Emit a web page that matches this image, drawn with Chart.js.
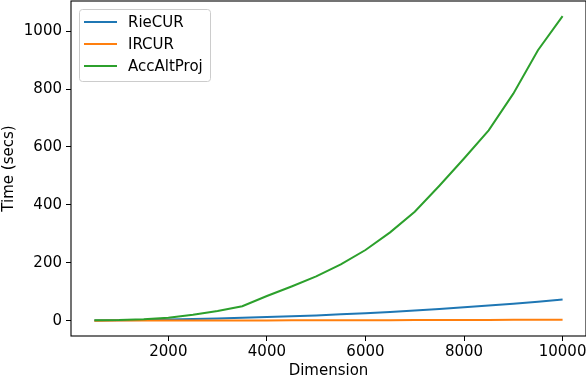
<!DOCTYPE html>
<html>
<head>
<meta charset="utf-8">
<script src="https://cdn.jsdelivr.net/npm/chart.js@4"></script>
<style>
html, body { margin: 0; padding: 0; background: #fff; }
#wrap { width: 586px; height: 380px; }
</style>
</head>
<body>
<div id="wrap"><canvas id="myChart" width="586" height="380"></canvas></div>
<script>
// dimensions and timings
let dims = [500, 1000, 1500, 2000, 2500, 3000, 3500, 4000, 4500, 5000,
    5500, 6000, 6500, 7000, 7500, 8000, 8500, 9000, 9500, 10000]
let rieCur = [0.5, 1, 2.5, 4, 5.5, 7.5, 10, 12.5, 15, 18,
    22, 26, 30, 35, 40, 46, 52, 58, 65, 73]
let irCur = [0.1, 0.2, 0.3, 0.4, 0.5, 0.6, 0.8, 0.9, 1.0, 1.2,
    1.4, 1.6, 1.8, 2.0, 2.2, 2.4, 2.6, 2.8, 3.0, 3.3]
let accAltProj = [1, 2, 5, 10, 20, 33, 50, 85, 118, 153,
    194, 244, 305, 376, 466, 560, 657, 784, 934, 1052]
let xTicks = [2000, 4000, 6000, 8000, 10000]
let yTicks = [0, 200, 400, 600, 800, 1000]

let fonte = "'DejaVu Sans', sans-serif"

function pontos(vals){
    return dims.map((d, i) => ({x: d, y: vals[i]}))
}

// box around the plot area + legend in the upper left corner
let moldura = {
    id: 'moldura',
    afterDatasetsDraw(chart){
        let c = chart.ctx
        let a = chart.chartArea
        c.save()
        c.strokeStyle = '#000'
        c.lineWidth = 1.1
        c.strokeRect(a.left, a.top, a.right - a.left, a.bottom - a.top)

        let bx = a.left + 8, by = a.top + 8, bw = 131, bh = 72
        c.fillStyle = 'rgba(255,255,255,0.8)'
        c.strokeStyle = '#cccccc'
        c.lineWidth = 1
        c.beginPath()
        c.roundRect(bx + 0.5, by + 0.5, bw, bh, 3)
        c.fill()
        c.stroke()
        c.font = '15px ' + fonte
        c.textBaseline = 'middle'
        chart.data.datasets.forEach((ds, i) => {
            let y = by + 13 + i * 22
            c.strokeStyle = ds.borderColor
            c.lineWidth = 2
            c.beginPath()
            c.moveTo(bx + 5, y)
            c.lineTo(bx + 38, y)
            c.stroke()
            c.fillStyle = '#000'
            c.fillText(ds.label, bx + 49, y + 1)
        })
        c.restore()
    }
}

function semPadding(ax){
    ax.paddingTop = 0
    ax.paddingBottom = 0
    ax.paddingLeft = 0
    ax.paddingRight = 0
}

let ctx = document.getElementById('myChart')
let dados = {
    datasets: [
        {label: 'RieCUR', data: pontos(rieCur), borderColor: '#1f77b4', order: 2},
        {label: 'IRCUR', data: pontos(irCur), borderColor: '#ff7f0e', order: 1},
        {label: 'AccAltProj', data: pontos(accAltProj), borderColor: '#2ca02c', order: 0},
    ]
}
let opcoes = {
    responsive: false,
    animation: false,
    layout: {padding: {top: 1, right: 0, left: 0, bottom: 0}},
    elements: {
        line: {borderWidth: 2, tension: 0, fill: false},
        point: {radius: 0}
    },
    plugins: {legend: {display: false}, tooltip: {enabled: false}},
    scales: {
        x: {
            type: 'linear',
            min: 25,
            max: 10475,
            afterBuildTicks: (ax) => { ax.ticks = xTicks.map(v => ({value: v})) },
            afterFit: (ax) => { ax.height = 44; semPadding(ax) },
            grid: {drawOnChartArea: false, drawTicks: true, tickLength: 5, color: '#000'},
            border: {display: false},
            ticks: {color: '#000', font: {family: fonte, size: 15}, padding: 2, maxRotation: 0,
                callback: (v) => String(v)},
            title: {display: true, text: 'Dimension', color: '#000',
                font: {family: fonte, size: 15}, padding: {top: 0, bottom: 0}}
        },
        y: {
            type: 'linear',
            min: -53,
            max: 1104,
            afterBuildTicks: (ax) => { ax.ticks = yTicks.map(v => ({value: v})) },
            afterFit: (ax) => { ax.width = 71; semPadding(ax) },
            grid: {drawOnChartArea: false, drawTicks: true, tickLength: 5, color: '#000'},
            border: {display: false},
            ticks: {color: '#000', font: {family: fonte, size: 15}, padding: 4,
                callback: (v) => String(v)},
            title: {display: true, text: 'Time (secs)', color: '#000',
                font: {family: fonte, size: 15}, padding: {top: 0, bottom: 2}}
        }
    }
}

let grafico = new Chart(ctx, {
    type: 'line',
    data: dados,
    options: opcoes,
    plugins: [moldura]
})
</script>
</body>
</html>
